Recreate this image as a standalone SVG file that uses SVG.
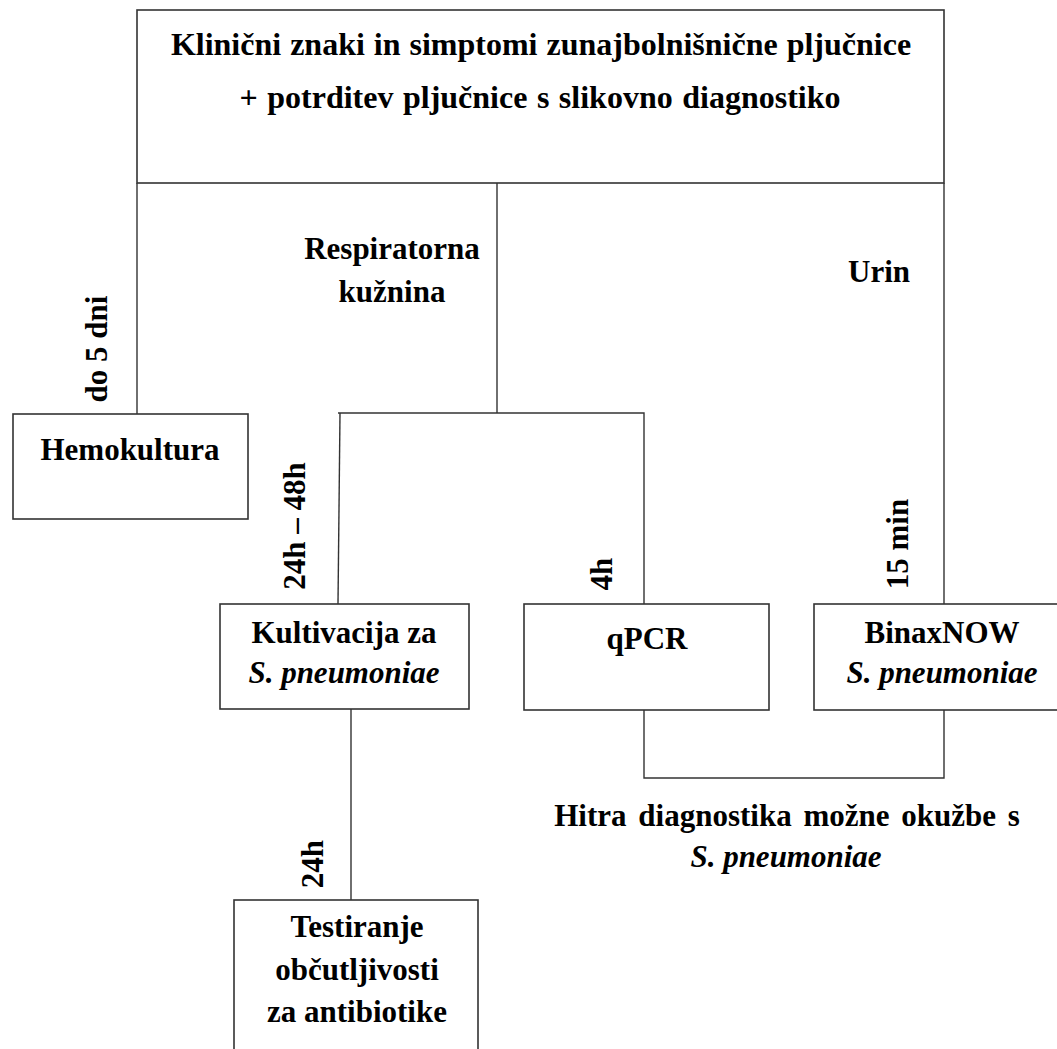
<svg xmlns="http://www.w3.org/2000/svg" width="1057" height="1049" viewBox="0 0 1057 1049">
<style>
.box{fill:#fff;stroke:#333;stroke-width:1.6}
.ln{fill:none;stroke:#333;stroke-width:1.4}
text{font-family:"Liberation Serif","Times New Roman",serif;font-weight:bold;font-size:31px;fill:#000;text-anchor:middle}
.it{font-style:italic}
.big{font-size:32px}
</style>
<rect width="1057" height="1049" fill="#fff"/>
<g id="connectors">
<path class="ln" d="M137,183 V414"/>
<path class="ln" d="M497,183 V413"/>
<path class="ln" d="M944,183 V604"/>
<path class="ln" d="M338,413 H644 V604"/>
<path class="ln" d="M340,413 L338,604"/>
<path class="ln" d="M644,710 V778 H944 V710"/>
<path class="ln" d="M351,709 V900"/>
<text x="392" y="259">Respiratorna</text>
<text x="392" y="302">kužnina</text>
<text x="879" y="282">Urin</text>
<text transform="translate(107,349) rotate(-90)">do 5 dni</text>
<text transform="translate(305,526) rotate(-90)">24h – 48h</text>
<text transform="translate(612,574) rotate(-90)">4h</text>
<text transform="translate(908,544) rotate(-90)">15 min</text>
<text transform="translate(323,864) rotate(-90)">24h</text>
</g>
<g id="top">
<rect class="box" x="137" y="10" width="807" height="173"/>
<text class="big" x="541" y="55" word-spacing="1">Klinični znaki in simptomi zunajbolnišnične pljučnice</text>
<text class="big" x="540" y="108" word-spacing="1.5">+ potrditev pljučnice s slikovno diagnostiko</text>
</g>
<g id="hemokultura">
<rect class="box" x="13" y="414" width="235" height="105"/>
<text x="130" y="460">Hemokultura</text>
</g>
<g id="kultivacija">
<rect class="box" x="220" y="604" width="249" height="105"/>
<text x="344" y="643">Kultivacija za</text>
<text class="it" x="344" y="683">S. pneumoniae</text>
</g>
<g id="qpcr">
<rect class="box" x="524" y="604" width="245" height="106"/>
<text x="647" y="649">qPCR</text>
</g>
<g id="binaxnow">
<rect class="box" x="814" y="604" width="250" height="106"/>
<text x="942" y="643">BinaxNOW</text>
<text class="it" x="942" y="683">S. pneumoniae</text>
</g>
<g id="testiranje">
<rect class="box" x="234" y="900" width="244" height="160"/>
<text x="357" y="937">Testiranje</text>
<text x="357" y="980">občutljivosti</text>
<text x="357" y="1022">za antibiotike</text>
</g>
<g id="hitra">
<text x="787" y="826" word-spacing="4">Hitra diagnostika možne okužbe s</text>
<text class="it" x="786" y="867">S. pneumoniae</text>
</g>
</svg>
